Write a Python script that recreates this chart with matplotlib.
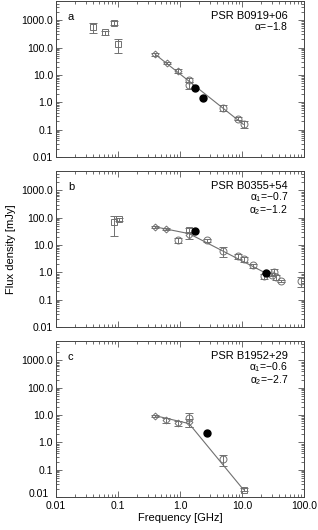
import matplotlib
matplotlib.use("Agg")
import matplotlib.pyplot as plt
import matplotlib.ticker as ticker
import matplotlib.transforms as mtransforms

plt.rcParams["font.family"] = ["Liberation Sans", "DejaVu Sans"]
plt.rcParams["mathtext.fontset"] = "custom"
plt.rcParams["mathtext.rm"] = "Liberation Sans"
plt.rcParams["mathtext.it"] = "Liberation Sans"

GRAY = "#707070"

# ---- panel a: PSR B0919+06
a_sq_f = [0.040, 0.062, 0.087, 0.100]
a_sq_s = [570, 355, 800, 130]
a_sq_e = [220, 60, 110, 68]
a_dm_f = [0.40, 0.61, 0.92]
a_dm_s = [56, 27.5, 14]
a_dm_e = [6, 3, 2]
a_ci_f = [1.41, 1.41, 5.0, 8.5, 10.9]
a_ci_s = [6.5, 4.3, 0.63, 0.25, 0.155]
a_ci_e = [1.2, 1.3, 0.17, 0.03, 0.045]
a_fi_f = [1.75, 2.32]
a_fi_s = [3.2, 1.46]
a_fit_f = [0.40, 10.5]
a_fit_s = [56, 0.155]

# ---- panel b: PSR B0355+54
b_sq_f = [0.087, 0.103, 1.41]
b_sq_s = [70, 88, 35]
b_sq_e = [48, 12, 8]
b_dm_f = [0.40, 0.60, 1.41]
b_dm_s = [46, 38, 23]
b_dm_e = [5, 3, 6]
b_ci_f = [0.92, 2.75, 4.9, 8.5, 10.9, 14.8, 23, 30, 32.5, 35, 43, 91]
b_ci_s = [15, 15, 6.2, 4.0, 3.0, 1.8, 0.72, 0.83, 1.05, 0.65, 0.48, 0.48]
b_ci_e = [3, 2, 2.5, 0.8, 0.6, 0.3, 0.15, 0.12, 0.25, 0.12, 0.05, 0.18]
b_fi_f = [1.75, 24.4]
b_fi_s = [33, 0.91]
b_fit_f = [0.40, 1.4, 25]
b_fit_s = [46, 26, 0.9]

# ---- panel c: PSR B1952+29
c_sq_f = [10.9]
c_sq_s = [0.019]
c_sq_e = [0.002]
c_dm_f = [0.40, 0.60, 0.92, 1.41]
c_dm_s = [9.0, 6.5, 5.1, 5.5]
c_dm_e = [0.7, 1.5, 1.2, 1.8]
c_ci_f = [1.41, 5.0]
c_ci_s = [7.8, 0.24]
c_ci_e = [4.0, 0.1]
c_fi_f = [2.7]
c_fi_s = [2.3]
c_fit_f = [0.40, 1.4, 10.5]
c_fit_s = [9.5, 4.9, 0.019]

panels = [
    ("a", "PSR B0919+06", [r"$\alpha$=$-$1.8"],
     (a_sq_f, a_sq_s, a_sq_e), (a_dm_f, a_dm_s, a_dm_e), (a_ci_f, a_ci_s, a_ci_e),
     (a_fi_f, a_fi_s), (a_fit_f, a_fit_s)),
    ("b", "PSR B0355+54", [r"$\alpha_1$=$-$0.7", r"$\alpha_2$=$-$1.2"],
     (b_sq_f, b_sq_s, b_sq_e), (b_dm_f, b_dm_s, b_dm_e), (b_ci_f, b_ci_s, b_ci_e),
     (b_fi_f, b_fi_s), (b_fit_f, b_fit_s)),
    ("c", "PSR B1952+29", [r"$\alpha_1$=$-$0.6", r"$\alpha_2$=$-$2.7"],
     (c_sq_f, c_sq_s, c_sq_e), (c_dm_f, c_dm_s, c_dm_e), (c_ci_f, c_ci_s, c_ci_e),
     (c_fi_f, c_fi_s), (c_fit_f, c_fit_s)),
]

fig = plt.figure(figsize=(3.18, 5.30), dpi=100)
left, width, height = 0.176, 0.780, 0.294
bottoms = [0.704, 0.383, 0.062]

yticks = [0.01, 0.1, 1, 10, 100, 1000]
ylabels = ["0.01", "0.1", "1.0", "10.0", "100.0", "1000.0"]
xticks = [0.01, 0.1, 1, 10, 100]
xlabels = ["0.01", "0.1", "1.0", "10.0", "100.0"]

for i, (letter, name, alphas, sq, dm, ci, fi, fit) in enumerate(panels):
    ax = fig.add_axes([left, bottoms[i], width, height])
    ax.set_xscale("log")
    ax.set_yscale("log")
    ax.set_xlim(0.01, 100)
    ax.set_ylim(0.01, 5000)

    ax.plot(fit[0], fit[1], color=GRAY, lw=0.8, zorder=1)
    ekw = dict(ls="none", color=GRAY, ecolor=GRAY, elinewidth=0.7, capsize=3,
               capthick=0.7, mfc="none", mec=GRAY, mew=0.7, zorder=2)
    ax.errorbar(sq[0], sq[1], yerr=sq[2], marker="s", ms=4, **ekw)
    ax.errorbar(dm[0], dm[1], yerr=dm[2], marker="D", ms=3.5, **ekw)
    ax.errorbar(ci[0], ci[1], yerr=ci[2], marker="o", ms=5, **ekw)
    ax.plot(fi[0], fi[1], ls="none", marker="o", ms=5, color="black", zorder=3)

    ax.set_yticks(yticks)
    ax.set_yticklabels(ylabels)
    ax.set_xticks(xticks)
    if i == 2:
        ax.set_xticklabels(xlabels)
        ax.set_xlabel("Frequency [GHz]", fontsize=8, labelpad=1)
    else:
        ax.set_xticklabels([])
    if i == 1:
        ax.set_ylabel("Flux density [mJy]", fontsize=8, labelpad=4)
    ax.xaxis.set_minor_locator(ticker.LogLocator(base=10, subs=range(2, 10), numticks=20))
    ax.yaxis.set_minor_locator(ticker.LogLocator(base=10, subs=range(2, 10), numticks=20))
    ax.xaxis.set_minor_formatter(ticker.NullFormatter())
    ax.yaxis.set_minor_formatter(ticker.NullFormatter())
    ax.tick_params(which="both", direction="in", top=True, right=True,
                   labelsize=7.5, width=0.6, color="#555555")
    ax.tick_params(which="major", length=4, pad=2)
    ax.tick_params(which="minor", length=2)
    ax.tick_params(axis="x", which="major", pad=3)
    for sp in ax.spines.values():
        sp.set_linewidth(0.7)
        sp.set_color("#444444")

    if i == 2:
        # lift the lowest y label a little so it clears the x labels
        lab = ax.get_yticklabels()[0]
        lab.set_transform(lab.get_transform() +
                          mtransforms.ScaledTranslation(-3 / 72, 3 / 72, fig.dpi_scale_trans))

    ax.text(0.048, 0.897, letter, transform=ax.transAxes, fontsize=8,
            ha="left", va="center")
    ax.text(0.935, 0.906, name, transform=ax.transAxes, fontsize=8,
            ha="right", va="center")
    ax.text(0.935, 0.88, "\n".join(alphas), transform=ax.transAxes, fontsize=7.5,
            ha="right", va="top", multialignment="right", linespacing=0.95)

fig.savefig("out.png", dpi=100)
